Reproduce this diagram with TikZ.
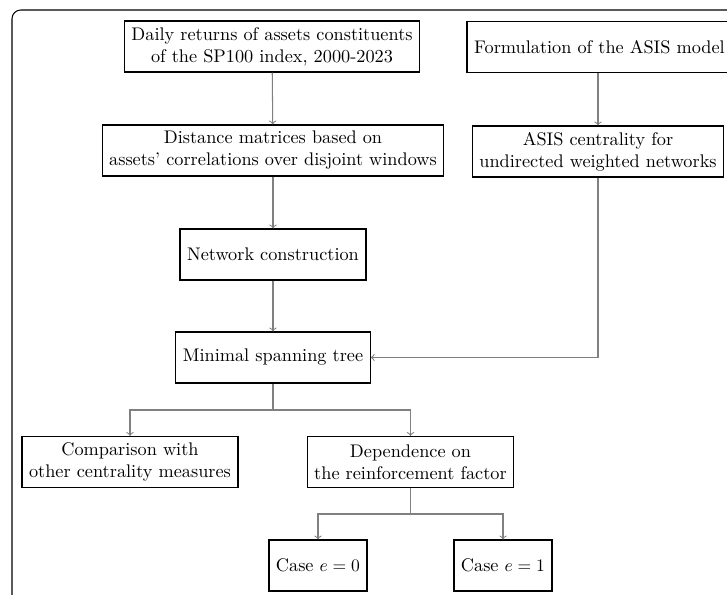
\documentclass[tikz,border=0pt]{standalone}
\usepackage{amsmath}
\usepackage{amssymb}
\usepackage{tikz}
\usetikzlibrary{shapes,arrows,positioning}

\begin{document}
\begin{tikzpicture}[
        x=0.02cm, y=0.02cm,
        block/.style = {rectangle, draw=black, line width=0.7pt, align=center,
            inner xsep=4pt, minimum height=1.02cm,
            font=\fontsize{10.4}{12.5}\selectfont},
        flow/.style = {->, draw=gray, line width=0.6pt}
    ]

    \useasboundingbox (0,0) rectangle (727,595);
    % frame
    \draw[rounded corners=5pt, line width=0.6pt] (12,-30) -- (12,585) -- (760,585);

    %nodes
    \node [block] (data) at (272,548.5) {Daily returns of assets constituents\\of the SP100 index, 2000-2023};
    \node [block, minimum width=5.3cm] (model) at (599.5,548) {Formulation of the ASIS model};
    \node [block] (dist) at (273,444.5) {Distance matrices based on\\assets' correlations over disjoint windows};
    \node [block] (asis) at (598,443.5) {ASIS centrality for\\undirected weighted networks};
    \node [block] (net) at (273,340.5) {Network construction};
    \node [block] (mst) at (273,237.5) {Minimal spanning tree};
    \node [block] (comp) at (130,133) {Comparison with\\other centrality measures};
    \node [block] (dep) at (410.5,133) {Dependence on\\the reinforcement factor};
    \node [block] (case0) at (318,29.5) {Case $e=0$};
    \node [block] (case1) at (503,29.5) {Case $e=1$};

    % branch points
    \coordinate (split1) at (273,185);
    \coordinate (split2) at (410.5,81);

    % connectors
    \draw[flow] (data) -- (dist);
    \draw[flow] (model.south -| asis) -- (asis);
    \draw[flow] (dist) -- (net);
    \draw[flow] (net) -- (mst);
    \draw[flow] (asis.south) |- (mst.east);
    \draw[flow] (mst.south) -- (split1) -| (comp.north);
    \draw[flow] (split1) -| (dep.north);
    \draw[flow] (dep.south) -- (split2) -| (case0.north);
    \draw[flow] (split2) -| (case1.north);

\end{tikzpicture}
\end{document}
